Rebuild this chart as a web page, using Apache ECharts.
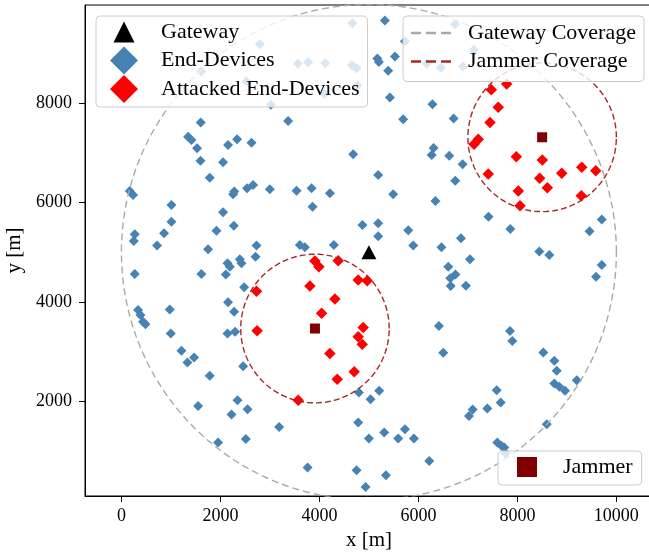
<!DOCTYPE html>
<html>
<head>
<meta charset="utf-8">
<script src="https://cdn.jsdelivr.net/npm/echarts@6/dist/echarts.min.js"></script>
<style>
  html, body { margin: 0; padding: 0; background: #fff; }
  #chart { width: 649px; height: 557px; }
</style>
</head>
<body>
<div id="chart"></div>
<script>
// tick labels
var xTicks = [0, 2000, 4000, 6000, 8000, 10000];
var yTicks = [2000, 4000, 6000, 8000];

// gateway / jammers
var gateway = [[5000, 5000]];
var gatewayRadius = 5000;
var jammers = [[3910, 3460], [8500, 7320]];
var jammerRadius = 1500;

// end-devices (not attacked)
var endDevices = [
    [5323, 9677], [4666, 9620], [5728, 9257], [6739, 9600], [2796, 9196], [3565, 8802], [3773, 8836],
    [4117, 8816], [4656, 8772], [4751, 8715], [4767, 8368], [4100, 8200], [1613, 8646], [2527, 8448],
    [3019, 7978], [6166, 8802], [6456, 8721], [6900, 8747], [7123, 9085],
    [1603, 7616], [1347, 7333], [1415, 7267], [1528, 7099], [2155, 7166], [2337, 7281], [2628, 7212],
    [1597, 6848], [2054, 6816], [1785, 6505], [168, 6236], [235, 6156], [1011, 5954], [2256, 6170],
    [2281, 6226], [2539, 6291], [2661, 6358], [2998, 6271], [2054, 5806], [1011, 5616], [2271, 5535],
    [269, 5362], [249, 5226], [861, 5382], [1921, 5434], [720, 5135], [1751, 5059], [2729, 5135],
    [2392, 4857], [2426, 4776], [2143, 4776], [2190, 4707], [2709, 4909], [3605, 5145], [3706, 5099],
    [269, 4560], [1617, 4560], [2109, 4549], [2479, 4291], [336, 3832], [384, 3731], [437, 3596],
    [485, 3549], [977, 3846], [2155, 3988], [2277, 3798], [997, 3362], [2143, 3362], [2297, 3394],
    [1213, 3010], [1468, 2877], [1334, 2776], [2459, 2701], [1785, 2505], [2345, 2014], [1549, 1899],
    [2224, 1725], [2548, 1832], [3186, 1475], [1953, 1160], [2513, 1232], [3761, 655],
    [5170, 8910], [5202, 8840], [5526, 8949], [5390, 8661], [5425, 8121], [6284, 7988], [3368, 7650],
    [5693, 7685], [6712, 7697], [4683, 6978], [6308, 7105], [6268, 6964], [6624, 6949], [6894, 6778],
    [5188, 6560], [6745, 6442], [3538, 6242], [3841, 6291], [4211, 6190], [3862, 5919], [5491, 6170],
    [6345, 6034], [7416, 5717], [7857, 5469], [4869, 5549], [5188, 5584], [5188, 5321], [5795, 5442],
    [5896, 5135], [4292, 5145], [6466, 5099], [6860, 5281], [7042, 4857], [6603, 4707], [6749, 4549],
    [6644, 4473], [6652, 4317], [6961, 4323], [8443, 5014], [8645, 4943], [9458, 5422], [9705, 5661],
    [9705, 4741], [9590, 4505],
    [6415, 3509], [6502, 2970], [7851, 3408], [7897, 3206], [8524, 2978], [8746, 2808], [8795, 2606],
    [9199, 2418], [8746, 2352], [8848, 2283], [8963, 2202], [4798, 2170], [5034, 2034], [5208, 2202],
    [7582, 2216], [7663, 1968], [7097, 1826], [7022, 1697], [7392, 1846], [4784, 1564], [5000, 1240],
    [5309, 1362], [5592, 1240], [5728, 1428], [5910, 1240], [8593, 1529], [7594, 1160], [7683, 1091],
    [7736, 1059], [7764, 937], [6219, 788], [4751, 600], [5344, 499], [4933, 263]
];

// end-devices inside a jammer's range
var attackedDevices = [
    [2729, 4212], [2742, 3414], [3571, 2014], [3807, 4317], [4044, 3766], [3908, 4822], [3989, 4707],
    [4379, 4828], [4784, 4438], [4966, 4424], [4313, 4055], [4885, 3483], [4784, 3293], [4865, 3145],
    [4212, 2958], [4703, 2586], [4359, 2438],
    [7784, 8398], [7473, 8277], [7614, 7927], [7447, 7616], [7210, 7281], [7123, 7180], [7978, 6929],
    [8504, 6863], [7412, 6580], [8451, 6493], [8896, 6594], [9300, 6715], [9583, 6646], [8605, 6303],
    [8019, 6236], [9292, 6141], [8053, 5939]
];

// ring of points round a centre, in data units
function ring(c, r) {
    var pts = [];
    for (var i = 0; i <= 240; i++) {
        var t = i / 240 * Math.PI * 2;
        pts.push([c[0] + r * Math.cos(t), c[1] + r * Math.sin(t)]);
    }
    return pts;
}

var font = 'Liberation Serif';
var plain = function (v) { return String(v); };
// legend icons (the M points only pad the box)
var dashIcon = 'path://M0,0M40,28M0,12.7h10v2.6h-10zM15,12.7h10v2.6h-10zM30,12.7h10v2.6h-10z';
var triIcon = 'path://M0,0M28,28M14,3.5L24.5,24.5L3.5,24.5Z';

var myChart = echarts.init(document.getElementById('chart'));

var jammerSeries = jammers.map(function (j) {
    return {
        name: 'Jammer Coverage',
        type: 'line',
        data: ring(j, jammerRadius),
        symbol: 'none',
        silent: true,
        z: 3,
        lineStyle: {color: '#a52a2a', width: 1.4, type: [6, 3]},
        itemStyle: {color: '#a52a2a'}
    };
});

var option = {
    animation: false,
    grid: {
        left: 85, right: -4, top: 5, bottom: 61,
        show: true, borderColor: '#000', borderWidth: 1,
        outerBoundsMode: 'none'
    },
    xAxis: {
        type: 'value',
        min: -736, max: 10740,
        name: 'x [m]', nameLocation: 'middle', nameGap: 30,
        nameTextStyle: {fontFamily: font, fontSize: 21, color: '#000'},
        axisLine: {show: true, onZero: false, lineStyle: {color: '#000', width: 1}},
        axisTick: {show: true, length: 6, lineStyle: {color: '#000'}, customValues: xTicks},
        axisLabel: {fontFamily: font, fontSize: 18, color: '#000', margin: 11, customValues: xTicks, formatter: plain},
        splitLine: {show: false}
    },
    yAxis: {
        type: 'value',
        min: 80, max: 9990,
        name: 'y [m]', nameLocation: 'middle', nameGap: 50,
        nameTextStyle: {fontFamily: font, fontSize: 21, color: '#000'},
        axisLine: {show: true, onZero: false, lineStyle: {color: '#000', width: 1}},
        axisTick: {show: true, length: 6, lineStyle: {color: '#000'}, customValues: yTicks},
        axisLabel: {fontFamily: font, fontSize: 18, color: '#000', margin: 13, customValues: yTicks, formatter: plain},
        splitLine: {show: false}
    },
    legend: [{
        left: 96, top: 16, orient: 'vertical',
        padding: [2, 8, 4, 14], itemGap: 0.5,
        itemWidth: 28, itemHeight: 28,
        backgroundColor: 'rgba(255,255,255,0.8)',
        borderColor: '#cccccc', borderWidth: 1, borderRadius: 4,
        selectedMode: false,
        textStyle: {fontFamily: font, fontSize: 22, color: '#000', padding: [0, 0, 0, 18]},
        data: [
            {name: 'Gateway', icon: triIcon},
            {name: 'End-Devices', icon: 'diamond'},
            {name: 'Attacked End-Devices', icon: 'diamond'}
        ]
    }, {
        left: 403, top: 16, orient: 'vertical',
        padding: [3, 8, 6, 8], itemGap: 0.5,
        itemWidth: 40, itemHeight: 28,
        backgroundColor: 'rgba(255,255,255,0.8)',
        borderColor: '#cccccc', borderWidth: 1, borderRadius: 4,
        selectedMode: false,
        textStyle: {fontFamily: font, fontSize: 22, color: '#000', padding: [0, 0, 0, 12]},
        data: [
            {name: 'Gateway Coverage', icon: dashIcon},
            {name: 'Jammer Coverage', icon: dashIcon}
        ]
    }, {
        left: 498, top: 451, orient: 'vertical',
        padding: [5, 9, 7, 19],
        itemWidth: 20, itemHeight: 20,
        backgroundColor: 'rgba(255,255,255,0.8)',
        borderColor: '#cccccc', borderWidth: 1, borderRadius: 4,
        selectedMode: false,
        textStyle: {fontFamily: font, fontSize: 22, color: '#000', padding: [0, 0, 0, 21]},
        data: [{name: 'Jammer', icon: 'rect'}]
    }],
    series: [{
        name: 'End-Devices',
        type: 'scatter',
        symbol: 'diamond',
        symbolSize: 10,
        itemStyle: {color: '#4682b4', opacity: 1},
        data: endDevices,
        z: 2
    }, {
        name: 'Attacked End-Devices',
        type: 'scatter',
        symbol: 'diamond',
        symbolSize: 11.5,
        itemStyle: {color: '#ff0000', opacity: 1},
        data: attackedDevices,
        z: 2
    }, {
        name: 'Gateway Coverage',
        type: 'line',
        data: ring(gateway[0], gatewayRadius),
        symbol: 'none',
        silent: true,
        z: 3,
        lineStyle: {color: '#a9a9a9', width: 1.4, type: [7, 4]},
        itemStyle: {color: '#a9a9a9'}
    }].concat(jammerSeries).concat([{
        name: 'Gateway',
        type: 'scatter',
        symbol: 'triangle',
        symbolSize: [15, 14],
        itemStyle: {color: '#000', opacity: 1},
        data: gateway,
        z: 4
    }, {
        name: 'Jammer',
        type: 'scatter',
        symbol: 'rect',
        symbolSize: 10,
        itemStyle: {color: '#800000', opacity: 1},
        data: jammers,
        z: 4
    }])
};
myChart.setOption(option);
</script>
</body>
</html>
